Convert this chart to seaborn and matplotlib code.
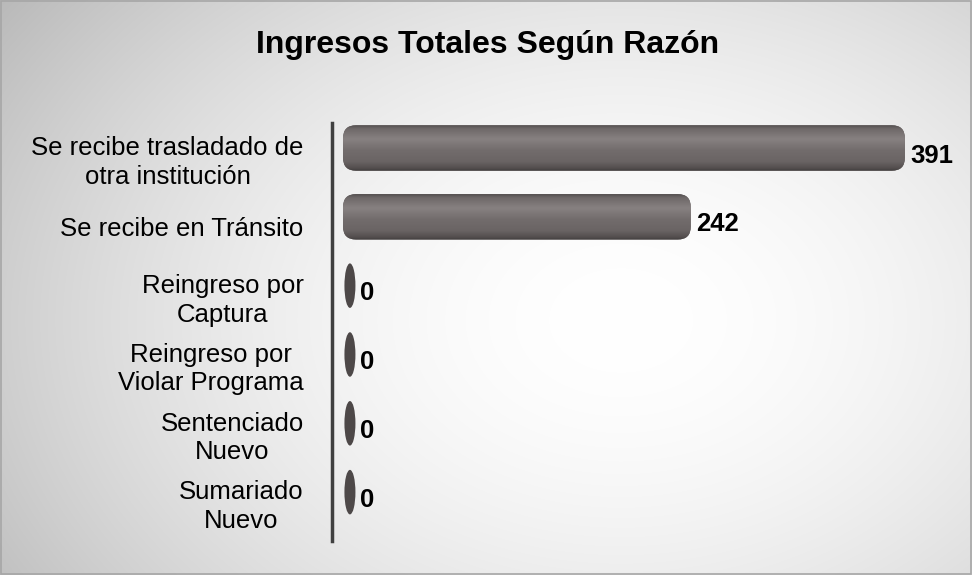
import numpy as np
import pandas as pd
import seaborn as sns
import matplotlib.pyplot as plt
from matplotlib.colors import LinearSegmentedColormap
from matplotlib.patches import FancyBboxPatch, Ellipse, Rectangle
from matplotlib.transforms import ScaledTranslation

categories = ["Se recibe trasladado de\notra institución", "Se recibe en Tránsito",
              "Reingreso por\nCaptura", "Reingreso por\nViolar Programa",
              "Sentenciado\nNuevo", "Sumariado\nNuevo"]
values = [391, 242, 0, 0, 0, 0]
title = "Ingresos Totales Según Razón"

df = pd.DataFrame({"razon": categories, "total": values})

sns.set_style("white")
plt.rcParams["font.family"] = ["Liberation Sans", "DejaVu Sans"]
plt.rcParams["text.color"] = "black"

fig = plt.figure(figsize=(9.72, 5.75), dpi=100)

# soft radial background like the original slide
bg = fig.add_axes([0, 0, 1, 1], zorder=-10)
yy, xx = np.mgrid[0:575, 0:972]
r = np.hypot((xx - 620) / 620, (yy - 320) / 450)
shade = 1 - 0.19 * np.clip(r, 0, 1.4) ** 1.8
bg.imshow(np.dstack([shade] * 3), aspect="auto", extent=(0, 1, 0, 1))
bg.add_patch(Rectangle((0.001, 0.0015), 0.998, 0.997, fill=False, edgecolor="#a6a6a6", lw=1.2))
bg.set_xlim(0, 1)
bg.set_ylim(0, 1)
bg.axis("off")

ax = fig.add_axes([331.5 / 972, 0.0591, (965 - 331.5) / 972, 0.7861 - 0.0591])
ax.patch.set_alpha(0)
sns.barplot(data=df, x="total", y="razon", orient="h", width=0.66, color="#6e6868", ax=ax)

xmin, xmax = -8, 432.8
ymin, ymax = 5.71, -0.363
px_x = (965 - 331.5) / (xmax - xmin)   # pixels per x unit
px_y = (541 - 123) / (ymin - ymax)     # pixels per y unit

cyl = LinearSegmentedColormap.from_list("cyl", [
    (0.0, "#555050"), (0.07, "#6e6868"), (0.3, "#878181"), (0.55, "#726c6c"),
    (0.8, "#6a6464"), (0.95, "#524d4d"), (1.0, "#423e3e")])
grad = np.linspace(0, 1, 64).reshape(-1, 1)

rad = 13 / px_x
aspect = (13 / px_y) / rad
ends = []
for p in list(ax.patches):
    x0, y0, w, h = p.get_x(), p.get_y(), p.get_width(), p.get_height()
    p.set_visible(False)
    if w > 0:
        fp = FancyBboxPatch((x0, y0), w, h, boxstyle=f"round,pad=0,rounding_size={rad}",
                            mutation_aspect=aspect, facecolor="#6e6868", edgecolor="none", zorder=2)
        ax.add_patch(fp)
        im = ax.imshow(grad, cmap=cyl, extent=(x0, x0 + w, y0 + h, y0), aspect="auto", zorder=3)
        im.set_clip_path(fp)
        ends.append(x0 + w)
    else:
        ew = 11 / px_x
        ax.add_patch(Ellipse((x0 + ew / 2 + 1, y0 + h / 2), ew, h * 0.98, facecolor="#4d4848",
                             edgecolor="none", zorder=2))
        ends.append(x0 + ew + 1)

for i, v in enumerate(values):
    ax.annotate(str(v), xy=(ends[i], i), xytext=(3.6, -5.5), textcoords="offset points",
                ha="left", va="center", fontsize=18.5, fontweight="bold", color="black")

ax.set_xlim(xmin, xmax)
ax.set_ylim(ymin, ymax)
ax.set_xticks([])
ax.set_xlabel("")
ax.set_ylabel("")
sns.despine(ax=ax, top=True, right=True, bottom=True, left=False)
ax.spines["left"].set_color("#404040")
ax.spines["left"].set_linewidth(2.5)
ax.tick_params(axis="y", length=0, pad=20, labelsize=18.5, labelcolor="black")
shift = ScaledTranslation(0, -7 / 72, fig.dpi_scale_trans)
for lab in ax.get_yticklabels():
    lab.set_multialignment("center")
    lab.set_linespacing(1.25)
    lab.set_transform(lab.get_transform() + shift)

fig.text(0.502, 1 - 53 / 575, title, ha="center", va="baseline", fontsize=23,
         fontweight="bold", color="black")

fig.savefig("out.png", dpi=100)
